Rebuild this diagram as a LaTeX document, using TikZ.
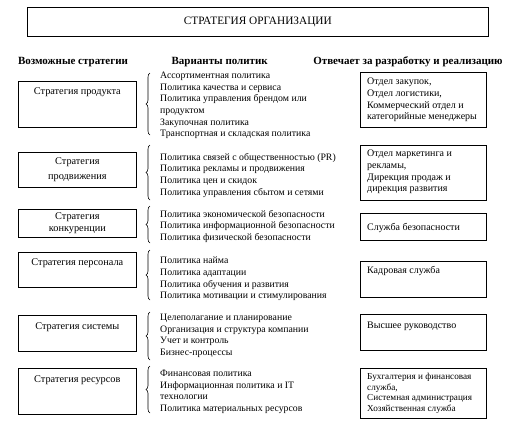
\documentclass[tikz,border=0pt]{standalone}
\usepackage{fontspec}
\setmainfont{Liberation Serif}
\usetikzlibrary{decorations.pathreplacing}
\begin{document}
\begin{tikzpicture}[x=1pt,y=-1pt,
  box/.style={draw, line width=0.7pt, inner sep=0, anchor=north west},
  boxtext/.style={inner sep=0, align=center, anchor=north, font=\fontsize{10.3}{15}\selectfont},
  rtext/.style={inner sep=0, align=left, anchor=north west, font=\fontsize{10}{11.7}\selectfont},
  rtextsmall/.style={inner sep=0, align=left, anchor=north west, font=\fontsize{9.2}{10.6}\selectfont},
  pol/.style={inner sep=0, align=left, anchor=north west, font=\fontsize{9.8}{11.6}\selectfont},
  hdr/.style={inner sep=0, font=\fontsize{11}{13}\selectfont\bfseries},
  brc/.style={decorate, decoration={brace, amplitude=4pt}, line width=0.6pt}]
\useasboundingbox (0,0) rectangle (513,432);

% title
\node[box, minimum width=461, minimum height=29] (title) at (27,7) {};
\node[inner sep=0, font=\fontsize{11.3}{13}\selectfont] (titletext) at (title.center) {СТРАТЕГИЯ ОРГАНИЗАЦИИ};

% headers
\node[hdr] (h1) at (73,62) {Возможные стратегии};
\node[hdr, anchor=east] (h2) at (268,62) {Варианты политик};
\node[hdr] (h3) at (408,62) {Отвечает за разработку и реализацию};

% left boxes
\node[box, minimum width=118, minimum height=46] (s1) at (18,81) {};
\node[boxtext] (s1t) at ([shift={(0,6)}]s1.north) {Стратегия продукта};
\node[box, minimum width=118, minimum height=35] (s2) at (18,152) {};
\node[boxtext] (s2t) at ([shift={(0,5)}]s2.north) {Стратегия\\продвижения};
\node[box, minimum width=118, minimum height=28] (s3) at (18,209) {};
\node[boxtext, font=\fontsize{10.3}{12}\selectfont] (s3t) at ([shift={(0,3)}]s3.north) {Стратегия\\конкуренции};
\node[box, minimum width=118, minimum height=35] (s4) at (18,252) {};
\node[boxtext] (s4t) at ([shift={(0,6)}]s4.north) {Стратегия персонала};
\node[box, minimum width=118, minimum height=36] (s5) at (18,315) {};
\node[boxtext] (s5t) at ([shift={(0,7)}]s5.north) {Стратегия системы};
\node[box, minimum width=118, minimum height=46] (s6) at (18,368) {};
\node[boxtext] (s6t) at ([shift={(0,7)}]s6.north) {Стратегия ресурсов};

% policies
\node[pol] (p1) at (160,72) {Ассортиментная политика\\Политика качества и сервиса\\Политика управления брендом или\\продуктом\\Закупочная политика\\Транспортная и складская политика};
\node[pol] (p2) at (160,153) {Политика связей с общественностью (PR)\\Политика рекламы и продвижения\\Политика цен и скидок\\Политика управления сбытом и сетями};
\node[pol] (p3) at (160,210) {Политика экономической безопасности\\Политика информационной безопасности\\Политика физической безопасности};
\node[pol] (p4) at (160,257) {Политика найма\\Политика адаптации\\Политика обучения и развития\\Политика мотивации и стимулирования};
\node[pol] (p5) at (160,314) {Целеполагание и планирование\\Организация и структура компании\\Учет и контроль\\Бизнес-процессы};
\node[pol] (p6) at (160,370) {Финансовая политика\\Информационная политика и IT\\технологии\\Политика материальных ресурсов};

% braces
\coordinate (b1t) at (150,73);  \coordinate (b1b) at (150,135);
\coordinate (b2t) at (150,145); \coordinate (b2b) at (150,200);
\coordinate (b3t) at (150,206); \coordinate (b3b) at (150,243);
\coordinate (b4t) at (150,250); \coordinate (b4b) at (150,300);
\coordinate (b5t) at (150,312); \coordinate (b5b) at (150,360);
\coordinate (b6t) at (150,366); \coordinate (b6b) at (150,413);
\draw[brc] (b1b) -- (b1t);
\draw[brc] (b2b) -- (b2t);
\draw[brc] (b3b) -- (b3t);
\draw[brc] (b4b) -- (b4t);
\draw[brc] (b5b) -- (b5t);
\draw[brc] (b6b) -- (b6t);

% right boxes
\node[box, minimum width=126, minimum height=55] (r1) at (360,72) {};
\node[rtext] (r1t) at ([shift={(7,6)}]r1.north west) {Отдел закупок,\\Отдел логистики,\\Коммерческий отдел и\\категорийные менеджеры};
\node[box, minimum width=126, minimum height=55] (r2) at (360,145) {};
\node[rtext] (r2t) at ([shift={(7,5)}]r2.north west) {Отдел маркетинга и\\рекламы,\\Дирекция продаж и\\дирекция развития};
\node[box, minimum width=126, minimum height=27] (r3) at (360,213) {};
\node[rtext] (r3t) at ([shift={(7,10)}]r3.north west) {Служба безопасности};
\node[box, minimum width=126, minimum height=36] (r4) at (360,261) {};
\node[rtext] (r4t) at ([shift={(7,5)}]r4.north west) {Кадровая служба};
\node[box, minimum width=126, minimum height=36] (r5) at (360,314) {};
\node[rtext] (r5t) at ([shift={(7,8)}]r5.north west) {Высшее руководство};
\node[box, minimum width=126, minimum height=50] (r6) at (360,368) {};
\node[rtextsmall] (r6t) at ([shift={(7,5)}]r6.north west) {Бухгалтерия и финансовая\\служба,\\Системная администрация\\Хозяйственная служба};
\end{tikzpicture}
\end{document}
